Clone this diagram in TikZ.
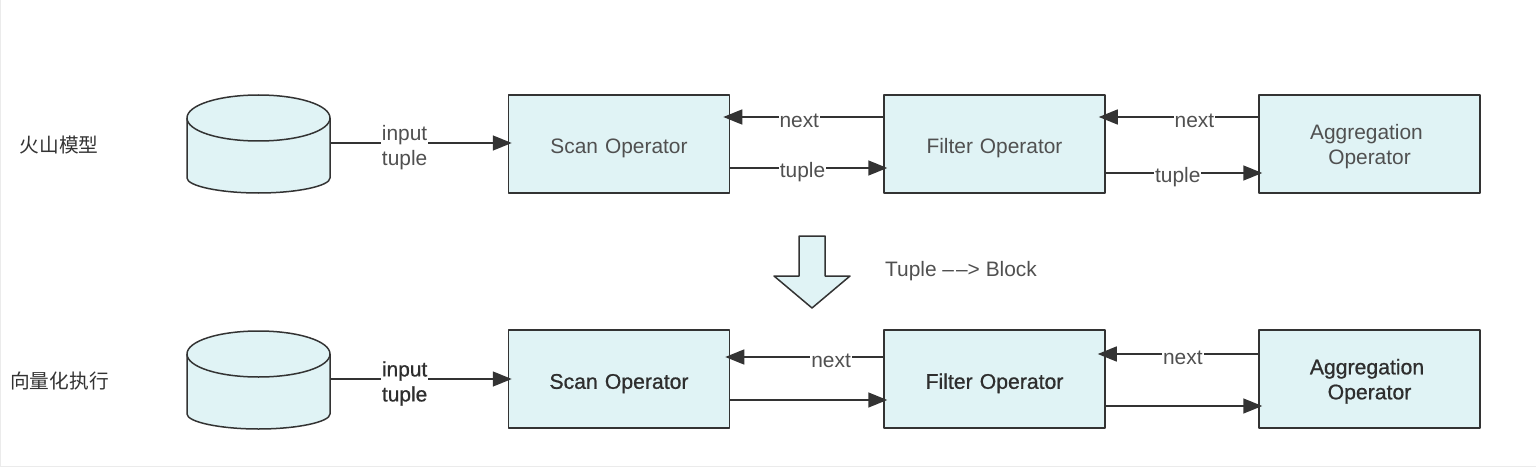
\documentclass[tikz,border=0pt]{standalone}
\usepackage{fontspec}
\setmainfont{Liberation Sans}
\newfontfamily\boldish[FakeBold=0.8]{Liberation Sans}
\newfontfamily\cjk{Noto Sans CJK SC}
\usetikzlibrary{arrows.meta}
\definecolor{boxfill}{HTML}{E0F3F5}
\definecolor{ink}{HTML}{333333}
\definecolor{soft}{HTML}{505050}
\definecolor{hard}{HTML}{2E2E2E}
\newcommand{\dn}[1]{\rule{0pt}{#1pt}}
\tikzset{
  shapeline/.style={draw=ink,line width=1.5pt,fill=boxfill,line join=round},
  opbox/.style={shapeline,minimum width=221pt,minimum height=98pt,inner sep=0pt,align=center,text width=170pt,text=soft,font=\fontsize{20.9}{25}\selectfont},
  opboxb/.style={opbox,text=hard,font=\fontsize{21.2}{25}\selectfont\boldish},
  dbbox/.style={minimum width=143pt,minimum height=98pt,inner sep=0pt},
  conn/.style={draw=ink,line width=1.5pt,-{Triangle[length=19pt,width=15pt,fill=ink]}},
  lab/.style={fill=white,inner sep=1pt,text=soft,font=\fontsize{20.9}{25}\selectfont,align=center},
  labb/.style={lab,text=hard,font=\fontsize{20.9}{25}\selectfont\boldish},
  cjklab/.style={text=ink,inner sep=0pt,font=\fontsize{19.7}{24}\selectfont\cjk},
  frameline/.style={draw=black!8,line width=1pt}
}
\begin{document}
\begin{tikzpicture}[x=1pt,y=-1pt]
\useasboundingbox (0,0) rectangle (1536,468);
\draw[frameline] (0.5,0) -- (0.5,466.5) -- (1536,466.5);

\node[cjklab] (t1) at (59,145.5) {火山模型};
\node[cjklab] (t2) at (59.5,381) {向量化执行};

% upper row
\node[dbbox] (db1) at (258.5,144) {};
\path[shapeline] (187,118) -- (187,178) .. controls (187,186) and (220,193) .. (258.5,193)
  .. controls (297,193) and (330,186) .. (330,178) -- (330,118)
  .. controls (330,105) and (298,95) .. (258.5,95)
  .. controls (219,95) and (187,105) .. (187,118) -- cycle;
\draw[shapeline,fill=none] (187,118) .. controls (187,131) and (219,141) .. (258.5,141)
  .. controls (298,141) and (330,131) .. (330,118);
\node[opbox] (s1) at (619,144) {\dn{24}Scan Operator};
\node[opbox] (f1) at (994.5,144) {\dn{24}Filter Operator};
\node[opbox] (a1) at (1369.5,144) {\dn{21}Aggregation\kern6pt\\Operator};

\draw[conn] ([shift={(0,-1)}]db1.east) -- node[lab,pos=0.41,yshift=-4.5pt]{input\\tuple} ([shift={(4,-1)}]s1.west);
\draw[conn] ([shift={(0,-27)}]f1.west) -- node[lab,pos=0.525,yshift=-3.5pt]{next} ([shift={(-7,-27)}]s1.east);
\draw[conn] ([shift={(0,24)}]s1.east) -- node[lab,pos=0.46,yshift=-4pt]{tuple} ([shift={(4,24)}]f1.west);
\draw[conn] ([shift={(0,-27)}]a1.west) -- node[lab,pos=0.4,yshift=-3.5pt]{next} ([shift={(-7,-27)}]f1.east);
\draw[conn] ([shift={(0,29)}]f1.east) -- node[lab,pos=0.46,yshift=-4pt]{tuple} ([shift={(4,29)}]a1.west);

% block arrow
\path[shapeline] (799,236) -- (825,236) -- (825,276) -- (850,276) -- (812,308) -- (774,276) -- (799,276) -- cycle;
\node[anchor=west,inner sep=0pt,text=soft,font=\fontsize{20.9}{25}\selectfont] (tb) at (885,271) {Tuple –\kern2pt–> Block};

% lower row
\node[dbbox] (db2) at (258.5,380) {};
\path[shapeline] (187,354) -- (187,414) .. controls (187,422) and (220,429) .. (258.5,429)
  .. controls (297,429) and (330,422) .. (330,414) -- (330,354)
  .. controls (330,341) and (298,331) .. (258.5,331)
  .. controls (219,331) and (187,341) .. (187,354) -- cycle;
\draw[shapeline,fill=none] (187,354) .. controls (187,367) and (219,377) .. (258.5,377)
  .. controls (298,377) and (330,367) .. (330,354);
\node[opboxb] (s2) at (619,379) {\dn{24}Scan Operator};
\node[opboxb] (f2) at (994.5,379) {\dn{24}Filter Operator};
\node[opboxb] (a2) at (1369.5,379) {\dn{20}Aggregation\kern5pt\\Operator};

\draw[conn] ([shift={(0,-1)}]db2.east) -- node[labb,pos=0.41,yshift=-4.5pt]{input\\tuple} ([shift={(4,0)}]s2.west);
\draw[conn] ([shift={(0,-22)}]f2.west) -- node[lab,pos=0.33,yshift=-3.5pt]{next} ([shift={(-5,-22)}]s2.east);
\draw[conn] ([shift={(0,21)}]s2.east) -- ([shift={(4,21)}]f2.west);
\draw[conn] ([shift={(0,-25)}]a2.west) -- node[lab,pos=0.47,yshift=-3.5pt]{next} ([shift={(-8,-25)}]f2.east);
\draw[conn] ([shift={(0,27)}]f2.east) -- ([shift={(4,27)}]a2.west);
\end{tikzpicture}
\end{document}
